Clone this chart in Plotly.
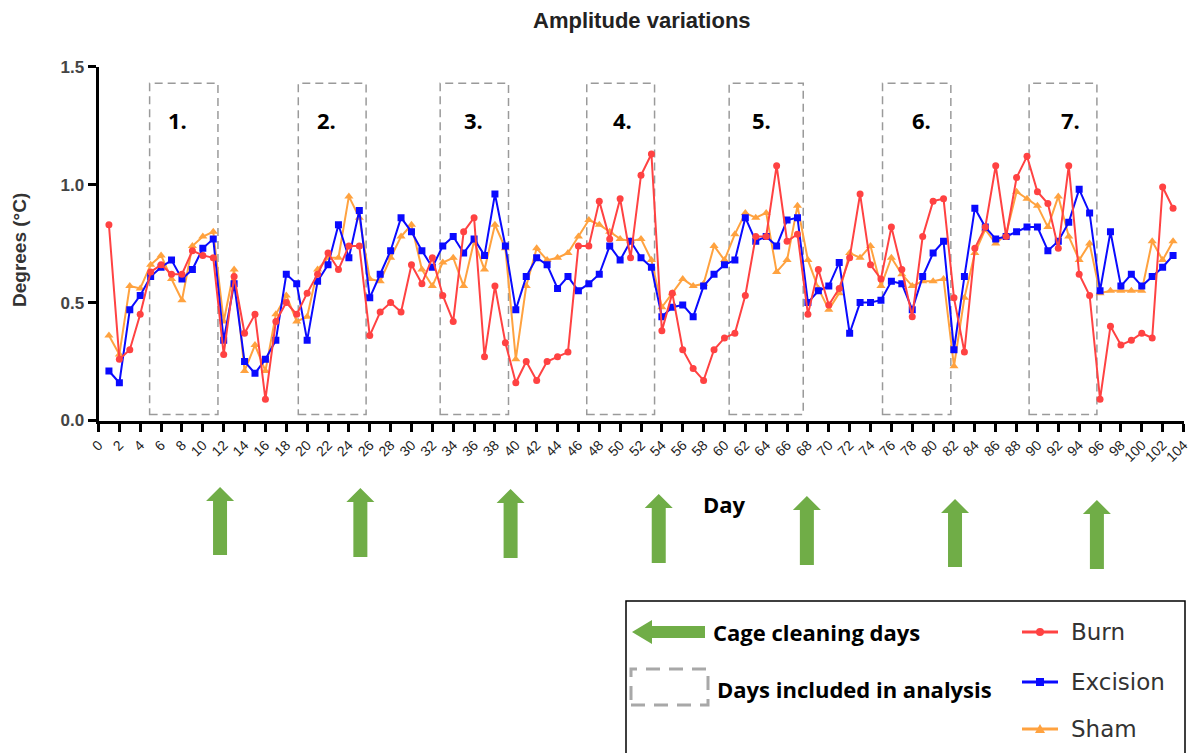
import plotly.graph_objects as go

# ---------------- data ----------------
days = list(range(1, 104))

burn = [0.83, 0.26, 0.30, 0.45, 0.63, 0.66, 0.62, 0.62, 0.72, 0.70,
        0.69, 0.28, 0.61, 0.37, 0.45, 0.09, 0.42, 0.50, 0.45, 0.54,
        0.62, 0.71, 0.64, 0.74, 0.74, 0.36, 0.46, 0.50, 0.46, 0.66,
        0.58, 0.69, 0.53, 0.42, 0.80, 0.86, 0.27, 0.57, 0.33, 0.16,
        0.25, 0.17, 0.25, 0.27, 0.29, 0.74, 0.74, 0.93, 0.77, 0.94,
        0.69, 1.04, 1.13, 0.38, 0.54, 0.30, 0.22, 0.17, 0.30, 0.35,
        0.37, 0.53, 0.78, 0.78, 1.08, 0.76, 0.79, 0.45, 0.64, 0.49,
        0.56, 0.69, 0.96, 0.66, 0.60, 0.82, 0.64, 0.44, 0.78, 0.93,
        0.94, 0.52, 0.29, 0.73, 0.82, 1.08, 0.78, 1.03, 1.12, 0.97,
        0.92, 0.73, 1.08, 0.62, 0.53, 0.09, 0.40, 0.32, 0.34, 0.37,
        0.35, 0.99, 0.90]

excision = [0.21, 0.16, 0.47, 0.53, 0.61, 0.65, 0.68, 0.60, 0.64, 0.73,
            0.77, 0.34, 0.58, 0.25, 0.20, 0.26, 0.34, 0.62, 0.58, 0.34,
            0.59, 0.66, 0.83, 0.69, 0.89, 0.52, 0.62, 0.72, 0.86, 0.80,
            0.72, 0.65, 0.74, 0.78, 0.71, 0.77, 0.70, 0.96, 0.74, 0.47,
            0.61, 0.69, 0.66, 0.56, 0.61, 0.55, 0.58, 0.62, 0.74, 0.68,
            0.76, 0.69, 0.65, 0.44, 0.48, 0.49, 0.44, 0.57, 0.62, 0.66,
            0.68, 0.86, 0.76, 0.78, 0.74, 0.85, 0.86, 0.50, 0.55, 0.57,
            0.67, 0.37, 0.50, 0.50, 0.51, 0.59, 0.58, 0.47, 0.61, 0.71,
            0.76, 0.30, 0.61, 0.90, 0.82, 0.77, 0.78, 0.80, 0.82, 0.82,
            0.72, 0.76, 0.84, 0.98, 0.88, 0.55, 0.80, 0.57, 0.62, 0.57,
            0.61, 0.65, 0.70]

sham = [0.36, 0.28, 0.57, 0.56, 0.66, 0.70, 0.60, 0.51, 0.74, 0.78,
        0.80, 0.42, 0.64, 0.21, 0.32, 0.21, 0.45, 0.53, 0.42, 0.44,
        0.64, 0.69, 0.69, 0.95, 0.86, 0.60, 0.59, 0.69, 0.78, 0.83,
        0.64, 0.57, 0.67, 0.69, 0.57, 0.76, 0.64, 0.83, 0.73, 0.26,
        0.57, 0.73, 0.68, 0.69, 0.71, 0.78, 0.85, 0.83, 0.80, 0.77,
        0.76, 0.77, 0.68, 0.48, 0.54, 0.60, 0.57, 0.58, 0.74, 0.68,
        0.79, 0.88, 0.86, 0.88, 0.63, 0.68, 0.91, 0.68, 0.56, 0.47,
        0.54, 0.71, 0.69, 0.74, 0.57, 0.69, 0.62, 0.57, 0.59, 0.59,
        0.60, 0.23, 0.52, 0.71, 0.81, 0.75, 0.79, 0.97, 0.94, 0.91,
        0.82, 0.95, 0.78, 0.68, 0.75, 0.54, 0.55, 0.55, 0.55, 0.55,
        0.76, 0.68, 0.76]

# analysis windows (start day, end day) and their labels
window_starts = [4.9, 19.15, 32.75, 46.8, 60.45, 75.15, 89.2]
window_ends = [11.45, 25.65, 39.3, 53.3, 67.55, 81.7, 95.7]
window_labels = ["1.", "2.", "3.", "4.", "5.", "6.", "7."]

# cage cleaning days (arrows under the axis)
cleaning_days = [11.65, 25.1, 39.5, 53.7, 67.9, 82.1, 95.7]

x_ticks = list(range(0, 105, 2))
y_ticks = [0, 0.5, 1.0, 1.5]
y_tick_text = ["0.0", "0.5", "1.0", "1.5"]

# ---------------- styling ----------------
W, H = 1192, 753
RED = "#ff4242"
BLUE = "#0a0aff"
ORANGE = "#ffa23f"
GREEN = "#70ad47"
DASH_GREY = "#9a9a9a"

X_LEFT, X_RIGHT = 98.5, 1183.5      # pixel span of the x axis
Y_BOTTOM, Y_TOP = 420.5, 66.7       # pixel span of the y axis
PX_PER_DAY = (X_RIGHT - X_LEFT) / 104.0


def px(x):
    return x / W


def py(y):
    return 1 - y / H


fig = go.Figure()

series = [
    ("Sham", sham, ORANGE, "triangle-up", 8),
    ("Excision", excision, BLUE, "square", 7),
    ("Burn", burn, RED, "circle", 7),
]
for name, vals, col, sym, size in series:
    fig.add_trace(go.Scatter(
        x=days, y=vals, name=name, mode="lines+markers",
        line=dict(color=col, width=2),
        marker=dict(symbol=sym, size=size, color=col, line=dict(width=0)),
        showlegend=False,
    ))

shapes = []
annotations = []

# dashed analysis windows, numbered
label_nudge_px = [-6, -6, -1, 2, -5, 5, 7]
for x0, x1, lab, nudge in zip(window_starts, window_ends, window_labels, label_nudge_px):
    shapes.append(dict(type="rect", xref="x", yref="y", x0=x0, x1=x1,
                       y0=0.025, y1=1.43, layer="below",
                       line=dict(color=DASH_GREY, width=1.5, dash="8px,5px")))
    annotations.append(dict(x=(x0 + x1) / 2 + nudge / PX_PER_DAY, y=1.275,
                            xref="x", yref="y", xanchor="center", yanchor="middle",
                            text=lab, showarrow=False,
                            font=dict(family="Open Sans", size=22, color="black",
                                      weight="bold")))

# green up-arrows marking cage cleaning days
arrow_tips = [487, 488, 489, 494, 496, 499, 500]
arrow_ends = [555, 557, 558, 563, 565, 567, 569]
head_hw = 14 / PX_PER_DAY
shaft_hw = 7 / PX_PER_DAY
for d, ty, by in zip(cleaning_days, arrow_tips, arrow_ends):
    hb = ty + 14
    path = (f"M {d} {py(ty)} L {d + head_hw} {py(hb)} L {d + shaft_hw} {py(hb)} "
            f"L {d + shaft_hw} {py(by)} L {d - shaft_hw} {py(by)} "
            f"L {d - shaft_hw} {py(hb)} L {d - head_hw} {py(hb)} Z")
    shapes.append(dict(type="path", xref="x", yref="paper", path=path,
                       fillcolor=GREEN, line=dict(width=0)))

# ---------------- key box ----------------
shapes.append(dict(type="rect", xref="paper", yref="paper",
                   x0=px(626), x1=px(1185), y0=py(760), y1=py(601),
                   line=dict(color="black", width=1.5)))

# left-pointing arrow
ay = 632
arrow_pts = [(632, ay), (652, ay - 12), (652, ay - 6), (705, ay - 6),
             (705, ay + 6), (652, ay + 6), (652, ay + 12)]
path = "M " + " L ".join(f"{px(a)} {py(b)}" for a, b in arrow_pts) + " Z"
shapes.append(dict(type="path", xref="paper", yref="paper", path=path,
                   fillcolor=GREEN, line=dict(width=0)))
annotations.append(dict(x=px(711), y=py(632), xref="paper", yref="paper",
                        xanchor="left", yanchor="middle", showarrow=False,
                        text="Cage cleaning days",
                        font=dict(family="Open Sans", size=22, color="black",
                                  weight="bold")))

# dashed sample box
shapes.append(dict(type="rect", xref="paper", yref="paper",
                   x0=px(631), x1=px(708), y0=py(705), y1=py(669),
                   line=dict(color="#a8a8a8", width=3, dash="14px,9px")))
annotations.append(dict(x=px(715), y=py(689), xref="paper", yref="paper",
                        xanchor="left", yanchor="middle", showarrow=False,
                        text="Days included in analysis",
                        font=dict(family="Open Sans", size=22, color="black",
                                  weight="bold")))

# series keys
key_rows = [("Burn", RED, "circle", 632), ("Excision", BLUE, "square", 682),
            ("Sham", ORANGE, "triangle", 729)]
for lab, col, kind, ky in key_rows:
    shapes.append(dict(type="line", xref="paper", yref="paper",
                       x0=px(1022), x1=px(1058), y0=py(ky), y1=py(ky),
                       line=dict(color=col, width=3)))
    cx = 1040
    if kind == "circle":
        shapes.append(dict(type="circle", xref="paper", yref="paper",
                           x0=px(cx - 4), x1=px(cx + 4), y0=py(ky + 4), y1=py(ky - 4),
                           fillcolor=col, line=dict(width=0)))
    elif kind == "square":
        shapes.append(dict(type="rect", xref="paper", yref="paper",
                           x0=px(cx - 4), x1=px(cx + 4), y0=py(ky + 4), y1=py(ky - 4),
                           fillcolor=col, line=dict(width=0)))
    else:
        tri = (f"M {px(cx)} {py(ky - 5)} L {px(cx + 5)} {py(ky + 4)} "
               f"L {px(cx - 5)} {py(ky + 4)} Z")
        shapes.append(dict(type="path", xref="paper", yref="paper", path=tri,
                           fillcolor=col, line=dict(width=0)))
    annotations.append(dict(x=px(1069), y=py(ky), xref="paper", yref="paper",
                            xanchor="left", yanchor="middle", showarrow=False,
                            text=lab,
                            font=dict(family="DejaVu Sans", size=23, color="#333")))

# ---------------- titles ----------------
annotations.append(dict(x=px(642), y=py(21), xref="paper", yref="paper",
                        xanchor="center", yanchor="middle",
                        showarrow=False, text="Amplitude variations",
                        font=dict(family="Liberation Sans", size=22, color="#222",
                                  weight="bold")))
annotations.append(dict(x=px(20), y=py(250), xref="paper", yref="paper",
                        xanchor="center", yanchor="middle",
                        showarrow=False, text="Degrees (°C)", textangle=-90,
                        font=dict(family="Liberation Sans", size=19, color="#333",
                                  weight="bold")))
annotations.append(dict(x=px(724), y=py(504), xref="paper", yref="paper",
                        xanchor="center", yanchor="middle",
                        showarrow=False, text="Day",
                        font=dict(family="Open Sans", size=22, color="black",
                                  weight="bold")))

fig.update_layout(
    width=W, height=H, autosize=False,
    margin=dict(l=0, r=0, t=0, b=0, pad=0, autoexpand=False),
    paper_bgcolor="white", plot_bgcolor="white",
    showlegend=False,
    xaxis=dict(domain=[px(X_LEFT), px(X_RIGHT)], range=[0, 104],
               automargin=False,
               tickmode="array", tickvals=x_ticks,
               ticks="outside", ticklen=8, tickwidth=2.5, tickcolor="black",
               showline=True, linewidth=3, linecolor="black",
               showgrid=False, zeroline=False, tickangle=-45,
               tickfont=dict(family="Liberation Sans", size=14, color="#222")),
    yaxis=dict(domain=[py(Y_BOTTOM), py(Y_TOP)], range=[0, 1.5],
               automargin=False,
               tickmode="array", tickvals=y_ticks, ticktext=y_tick_text,
               ticks="outside", ticklen=8, tickwidth=3, tickcolor="black",
               showline=True, linewidth=3, linecolor="black",
               showgrid=False, zeroline=False,
               tickfont=dict(family="Liberation Sans", size=17, color="#444",
                             weight="bold")),
    shapes=shapes,
    annotations=annotations,
)

fig.write_html("out.html")
